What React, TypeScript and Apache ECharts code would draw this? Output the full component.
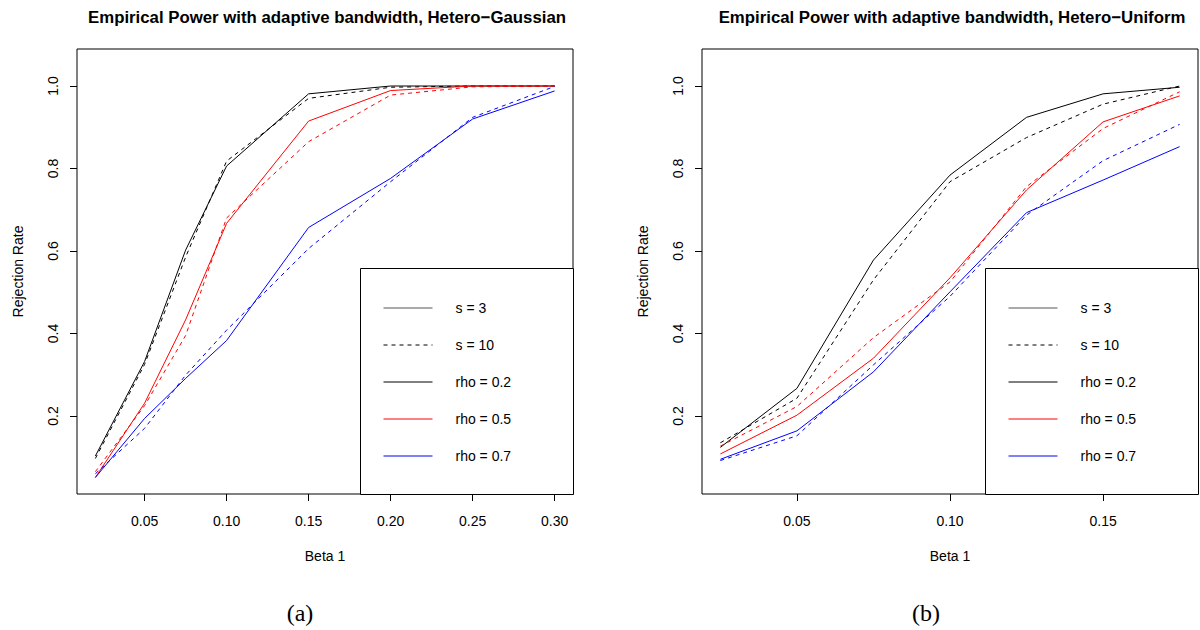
import React, { useEffect, useRef } from "react";
import * as echarts from "echarts";

// ---------- data ----------
const xGauss = [0.02, 0.05, 0.075, 0.1, 0.15, 0.2, 0.25, 0.3];
const gaussRho02S3 = [0.103, 0.332, 0.602, 0.806, 0.981, 1.0, 1.0, 1.0];
const gaussRho02S10 = [0.097, 0.325, 0.585, 0.818, 0.97, 0.997, 1.0, 1.0];
const gaussRho05S3 = [0.051, 0.231, 0.433, 0.667, 0.915, 0.989, 1.0, 1.0];
const gaussRho05S10 = [0.065, 0.225, 0.395, 0.68, 0.865, 0.978, 0.998, 1.0];
const gaussRho07S3 = [0.051, 0.194, 0.291, 0.383, 0.657, 0.776, 0.92, 0.988];
const gaussRho07S10 = [0.06, 0.17, 0.299, 0.408, 0.606, 0.768, 0.924, 0.999];

const xUnif = [0.025, 0.05, 0.075, 0.1, 0.125, 0.15, 0.175];
const unifRho02S3 = [0.124, 0.267, 0.578, 0.784, 0.924, 0.981, 0.997];
const unifRho02S10 = [0.135, 0.243, 0.53, 0.768, 0.875, 0.956, 1.0];
const unifRho05S3 = [0.108, 0.202, 0.34, 0.535, 0.748, 0.913, 0.976];
const unifRho05S10 = [0.127, 0.223, 0.39, 0.525, 0.756, 0.897, 0.986];
const unifRho07S3 = [0.095, 0.164, 0.307, 0.501, 0.693, 0.772, 0.853];
const unifRho07S10 = [0.092, 0.152, 0.324, 0.49, 0.687, 0.819, 0.907];

const xTicksGauss = [0.05, 0.1, 0.15, 0.2, 0.25, 0.3];
const xTicksUnif = [0.05, 0.1, 0.15];
const yTicks = [0.2, 0.4, 0.6, 0.8, 1.0];

const titles = [
  "Empirical Power with adaptive bandwidth, Hetero\u2212Gaussian",
  "Empirical Power with adaptive bandwidth, Hetero\u2212Uniform",
];
const legendLabels = ["s = 3", "s = 10", "rho = 0.2", "rho = 0.5", "rho = 0.7"];
const subLabels = ["(a)", "(b)"];

const FONT = "Liberation Sans, Arial, Helvetica, sans-serif";
const RED = "#ff0000";
const BLUE = "#0000ff";
const BLACK = "#000000";
const GREY = "#555555";

function pairs(xs: number[], ys: number[]) {
  return xs.map((x, i) => [x, ys[i]]);
}

function mkSeries(
  name: string,
  xs: number[],
  ys: number[],
  color: string,
  dashed: boolean,
  idx: number
) {
  return {
    name,
    type: "line",
    xAxisIndex: idx,
    yAxisIndex: idx,
    data: pairs(xs, ys),
    symbol: "none",
    silent: true,
    itemStyle: { color },
    lineStyle: { color, width: 1, type: dashed ? [4, 4] : "solid" },
    z: 2,
  };
}

// empty series that only provide legend keys
function legendKeySeries(name: string, color: string, dashed: boolean) {
  return {
    name,
    type: "line",
    xAxisIndex: 0,
    yAxisIndex: 0,
    data: [],
    symbol: "none",
    silent: true,
    itemStyle: { color },
    lineStyle: { color, width: 1, type: dashed ? [4, 4] : "solid" },
  };
}

function xAxis(idx: number, min: number, max: number, ticks: number[]) {
  return {
    type: "value",
    gridIndex: idx,
    min,
    max,
    name: "Beta 1",
    nameLocation: "middle",
    nameGap: 55,
    nameTextStyle: { color: BLACK, fontSize: 14, fontFamily: FONT },
    axisLine: { show: false },
    splitLine: { show: false },
    axisTick: {
      show: true,
      inside: false,
      length: 7,
      customValues: ticks,
      lineStyle: { color: BLACK, width: 1 },
    },
    axisLabel: {
      show: true,
      customValues: ticks,
      margin: 20,
      color: BLACK,
      fontSize: 14,
      fontFamily: FONT,
      formatter: (v: number) => v.toFixed(2),
    },
  };
}

function yAxis(idx: number) {
  return {
    type: "value",
    gridIndex: idx,
    min: 0.0109,
    max: 1.0897,
    name: "Rejection Rate",
    nameLocation: "middle",
    nameGap: 52,
    nameTextStyle: { color: BLACK, fontSize: 14, fontFamily: FONT },
    axisLine: { show: false },
    splitLine: { show: false },
    axisTick: {
      show: true,
      inside: false,
      length: 7,
      customValues: yTicks,
      lineStyle: { color: BLACK, width: 1 },
    },
    axisLabel: {
      show: true,
      customValues: yTicks,
      rotate: 90,
      margin: 17,
      color: BLACK,
      fontSize: 14,
      fontFamily: FONT,
      formatter: (v: number) => v.toFixed(1),
    },
  };
}

function legendComp(left: number) {
  return {
    data: legendLabels,
    orient: "vertical",
    left,
    top: 301,
    itemWidth: 49,
    itemHeight: 14,
    itemGap: 23,
    padding: 0,
    selectedMode: false,
    z: 10,
    itemStyle: { opacity: 0, borderWidth: 0 },
    lineStyle: { width: 1 },
    textStyle: {
      color: BLACK,
      fontSize: 14,
      fontFamily: FONT,
      padding: [0, 0, 0, 18],
      lineHeight: 14,
    },
  };
}

function boxEl(id: string, left: number, top: number) {
  return {
    type: "rect",
    id,
    shape: { x: left + 0.5, y: top + 0.5, width: 213, height: 494 - top },
    style: { fill: "#ffffff", stroke: BLACK, lineWidth: 1 },
    z: 5,
  };
}

function textEl(id: string, x: number, y: number, text: string, font: string) {
  return {
    type: "text",
    id,
    x,
    y,
    style: {
      text,
      fill: BLACK,
      font,
      textAlign: "center",
      textVerticalAlign: "middle",
    },
  };
}

export default function App() {
  const ref = useRef<HTMLDivElement>(null);
  useEffect(() => {
    document.body.style.margin = "0";
    const chart = echarts.init(ref.current!, null, { renderer: "svg" });
    const gridBase = {
      top: 49,
      width: 496,
      height: 445,
      show: true,
      borderColor: BLACK,
      borderWidth: 1,
      backgroundColor: "transparent",
    };
    const serif = `24px "Liberation Serif", "DejaVu Serif", serif`;
    const option: any = {
      animation: false,
      backgroundColor: "#ffffff",
      grid: [
        { ...gridBase, left: 77 },
        { ...gridBase, left: 702 },
      ],
      xAxis: [
        xAxis(0, 0.0088, 0.3112, xTicksGauss),
        xAxis(1, 0.019, 0.181, xTicksUnif),
      ],
      yAxis: [yAxis(0), yAxis(1)],
      legend: [legendComp(383), legendComp(1008)],
      series: [
        mkSeries("Gaussian rho=0.2 s=3", xGauss, gaussRho02S3, BLACK, false, 0),
        mkSeries("Gaussian rho=0.2 s=10", xGauss, gaussRho02S10, BLACK, true, 0),
        mkSeries("Gaussian rho=0.5 s=3", xGauss, gaussRho05S3, RED, false, 0),
        mkSeries("Gaussian rho=0.5 s=10", xGauss, gaussRho05S10, RED, true, 0),
        mkSeries("Gaussian rho=0.7 s=3", xGauss, gaussRho07S3, BLUE, false, 0),
        mkSeries("Gaussian rho=0.7 s=10", xGauss, gaussRho07S10, BLUE, true, 0),
        mkSeries("Uniform rho=0.2 s=3", xUnif, unifRho02S3, BLACK, false, 1),
        mkSeries("Uniform rho=0.2 s=10", xUnif, unifRho02S10, BLACK, true, 1),
        mkSeries("Uniform rho=0.5 s=3", xUnif, unifRho05S3, RED, false, 1),
        mkSeries("Uniform rho=0.5 s=10", xUnif, unifRho05S10, RED, true, 1),
        mkSeries("Uniform rho=0.7 s=3", xUnif, unifRho07S3, BLUE, false, 1),
        mkSeries("Uniform rho=0.7 s=10", xUnif, unifRho07S10, BLUE, true, 1),
        legendKeySeries(legendLabels[0], GREY, false),
        legendKeySeries(legendLabels[1], BLACK, true),
        legendKeySeries(legendLabels[2], BLACK, false),
        legendKeySeries(legendLabels[3], RED, false),
        legendKeySeries(legendLabels[4], BLUE, false),
      ],
      graphic: {
        elements: [
          textEl("title-a", 327, 17, titles[0], `bold 16.8px ${FONT}`),
          textEl("title-b", 952, 17, titles[1], `bold 16.8px ${FONT}`),
          textEl("sub-a", 300, 613, subLabels[0], serif),
          textEl("sub-b", 926, 613, subLabels[1], serif),
          boxEl("leg-box-a", 360, 268),
          boxEl("leg-box-b", 985, 268),
        ],
      },
    };
    chart.setOption(option);
    return () => chart.dispose();
  }, []);
  return <div ref={ref} style={{ width: 1200, height: 630 }} />;
}
